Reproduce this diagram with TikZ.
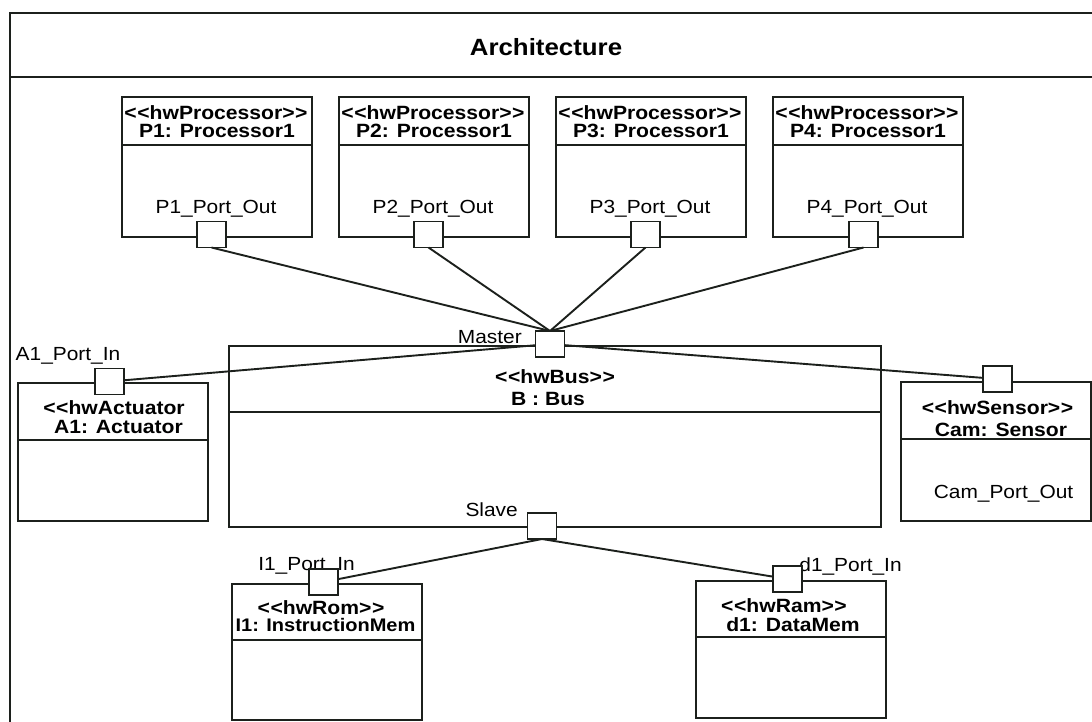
\documentclass[tikz,border=0pt]{standalone}
\usepackage{fontspec}
\setmainfont{Liberation Sans}[FakeStretch=1.1]
\definecolor{linec}{RGB}{28,32,28}
\newcommand\stl{<\kern0.6pt<}
\newcommand\stg{>\kern0.6pt>}
\begin{document}
\begin{tikzpicture}[x=1pt,y=-1pt,
  line/.style={draw=linec, line width=1.9pt},
  box/.style={draw=linec, line width=1.9pt, rectangle, inner sep=0pt, outer sep=0pt, anchor=north west},
  port/.style={draw=linec, line width=1.9pt, fill=white, rectangle, minimum width=29pt, minimum height=26pt, inner sep=0pt, outer sep=0pt},
  st/.style={font=\fontsize{19.2}{20}\selectfont\bfseries, inner sep=0pt, anchor=base},
  lbl/.style={font=\fontsize{19}{20}\selectfont, inner sep=0pt, anchor=base},
  ttl/.style={font=\fontsize{23.5}{25}\selectfont\bfseries, inner sep=0pt, anchor=base}]
\useasboundingbox (0,0) rectangle (1092,721);
\clip (0,0) rectangle (1092,721);
\fill[white] (0,0) rectangle (1092,721);

% frame
\node[box, minimum width=1100pt, minimum height=740pt] (frame) at (10,13) {};
\draw[line] ([yshift=-64pt]frame.north west) -- ([yshift=-64pt]frame.north east);
\node[ttl] (title) at (546,55) {Architecture};

% processors
\foreach \n/\x in {1/122,2/339,3/556,4/773}{
  \node[box, minimum width=190pt, minimum height=140pt] (P\n) at (\x,97) {};
  \draw[line] ([yshift=-48pt]P\n.north west) -- ([yshift=-48pt]P\n.north east);
  \node[st] (P\n s) at (\x+94,119) {\stl hwProcessor\stg};
  \node[st] (P\n t) at (\x+95,137) {P\n: Processor1};
  \node[lbl] (P\n l) at (\x+94,213) {P\n\_Port\_Out};
}

% bus
\node[box, minimum width=652pt, minimum height=181pt] (B) at (229,346) {};
\draw[line] ([yshift=-66pt]B.north west) -- ([yshift=-66pt]B.north east);
\node[st] (Bs) at (555,383) {\stl hwBus\stg};
\node[st] (Bt) at (548,405) {B : Bus};
\node[lbl, anchor=base east] (Ml) at (522,343) {Master};
\node[lbl, anchor=base east] (Sl) at (518,516) {Slave};

% actuator
\node[box, minimum width=190pt, minimum height=138pt] (A1) at (18,383) {};
\draw[line] ([yshift=-57pt]A1.north west) -- ([yshift=-57pt]A1.north east);
\node[st] (A1s) at (114,414) {\stl hwActuator};
\node[st] (A1t) at (118.5,433) {A1: Actuator};
\node[lbl] (A1l) at (68,360) {A1\_Port\_In};

% sensor
\node[box, minimum width=190pt, minimum height=139pt] (C) at (901,382) {};
\draw[line] ([yshift=-57pt]C.north west) -- ([yshift=-57pt]C.north east);
\node[st] (Cs) at (997.5,414) {\stl hwSensor\stg};
\node[st] (Ct) at (1001,436) {Cam: Sensor};
\node[lbl] (Cl) at (1003.5,498) {Cam\_Port\_Out};

% rom
\node[box, minimum width=190pt, minimum height=136pt] (R) at (232,584) {};
\draw[line] ([yshift=-56pt]R.north west) -- ([yshift=-56pt]R.north east);
\node[st] (Rs) at (321,614) {\stl hwRom\stg};
\node[st, font=\fontsize{18.2}{19}\selectfont\bfseries] (Rt) at (325.5,631) {I1: InstructionMem};
\node[lbl] (Rl) at (306.5,570) {I1\_Port\_In};

% ram
\node[box, minimum width=190pt, minimum height=137pt] (D) at (696,581) {};
\draw[line] ([yshift=-56pt]D.north west) -- ([yshift=-56pt]D.north east);
\node[st] (Ds) at (784,612) {\stl hwRam\stg};
\node[st] (Dt) at (793,631) {d1: DataMem};
\node[lbl] (Dl) at (850.5,571) {d1\_Port\_In};

% ports
\node[port] (P1o) at (211.5,234.5) {};
\node[port] (P2o) at (428.5,234.5) {};
\node[port] (P3o) at (645.5,234.5) {};
\node[port] (P4o) at (863.5,234.5) {};
\node[port] (M) at (550,344) {};
\node[port] (S) at (542,526) {};
\node[port] (A1p) at (109.5,381.5) {};
\node[port] (Cp) at (997.5,379) {};
\node[port] (Rp) at (323.5,582) {};
\node[port] (Dp) at (787.5,579) {};

% connectors
\foreach \n in {1,2,3,4}{\draw[line] (P\n o.south) -- (M.north);}
\draw[line] (A1p) -- (M);
\draw[line] (M) -- (Cp);
\draw[line] (S.south) -- (Rp);
\draw[line] (S.south) -- (Dp);
\end{tikzpicture}
\end{document}
